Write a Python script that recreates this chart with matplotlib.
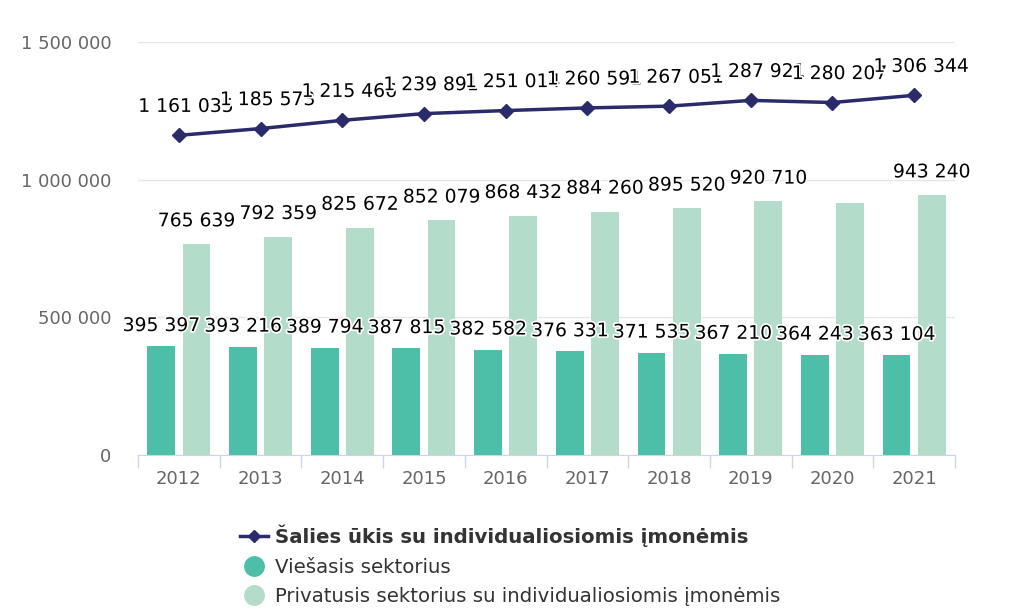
import numpy as np
import matplotlib
matplotlib.use('Agg')
import matplotlib.pyplot as plt
import matplotlib.patheffects as pe
from matplotlib.lines import Line2D

years = ['2012', '2013', '2014', '2015', '2016', '2017', '2018', '2019', '2020', '2021']
total = [1161035, 1185573, 1215466, 1239891, 1251014, 1260591, 1267051, 1287921, 1280207, 1306344]
public = [395397, 393216, 389794, 387815, 382582, 376331, 371535, 367210, 364243, 363104]
private = [765639, 792359, 825672, 852079, 868432, 884260, 895520, 920710, 915964, 943240]
# the 2020 private label is hidden in the original (overlap)
private_show = [True]*8 + [False, True]

names = ['Šalies ūkis su individualiosiomis įmonėmis',
         'Viešasis sektorius',
         'Privatusis sektorius su individualiosiomis įmonėmis']

c_line = '#2b2a6b'
c_pub = '#4dbfa8'
c_priv = '#b3dccb'

def fmt(v):
    return '{:,}'.format(v).replace(',', ' ')

fig = plt.figure(figsize=(10.24, 6.14), dpi=100)
ax = fig.add_axes([138/1024, 1-455/614, (955-138)/1024, (455-42)/614])

x = np.arange(len(years))
off = 0.215
w = 0.34

ax.bar(x-off, public, width=w, color=c_pub, zorder=2)
ax.bar(x+off, private, width=w, color=c_priv, zorder=2)
ax.plot(x, total, color=c_line, lw=2.5, marker='D', ms=7, zorder=3)

outline = [pe.withStroke(linewidth=2.5, foreground='white')]
lab_fs = 13.5
for i in range(len(years)):
    ax.annotate(fmt(public[i]), (x[i]-off, public[i]), xytext=(0, 8), textcoords='offset points',
                ha='center', va='bottom', fontsize=lab_fs, path_effects=outline, zorder=5)
    if private_show[i]:
        ax.annotate(fmt(private[i]), (x[i]+off, private[i]), xytext=(0, 10), textcoords='offset points',
                    ha='center', va='bottom', fontsize=lab_fs, path_effects=outline, zorder=5)
    ax.annotate(fmt(total[i]), (x[i], total[i]), xytext=(5, 14), textcoords='offset points',
                ha='center', va='bottom', fontsize=lab_fs, path_effects=outline, zorder=5)

ax.set_xlim(-0.5, len(years)-0.5)
ax.set_ylim(0, 1500000)
ax.set_yticks([0, 500000, 1000000, 1500000])
ax.set_yticklabels([fmt(v) for v in [0, 500000, 1000000, 1500000]])
ax.yaxis.grid(True, color='#e6e6e6', lw=1)
ax.set_axisbelow(True)
for s in ['top', 'right', 'left']:
    ax.spines[s].set_visible(False)
ax.spines['bottom'].set_color('#ccd6eb')
ax.tick_params(axis='y', length=0, pad=19, labelsize=13, labelcolor='#666666')
ax.set_xticks(x)
ax.set_xticklabels(years)
ax.tick_params(axis='x', length=0, pad=11, labelsize=13, labelcolor='#666666')
ax.set_xticks(np.arange(-0.5, len(years)), minor=True)
ax.tick_params(axis='x', which='minor', length=9, color='#ccd6eb', width=1)

handles = [Line2D([0], [0], color=c_line, lw=2.5, marker='D', ms=6),
           Line2D([0], [0], color='none', marker='o', ms=15, markerfacecolor=c_pub, markeredgecolor='none'),
           Line2D([0], [0], color='none', marker='o', ms=15, markerfacecolor=c_priv, markeredgecolor='none')]
leg = fig.legend(handles, names, loc='upper left', bbox_to_anchor=(232/1024, 1-517/614),
                 frameon=False, fontsize=14.2, handlelength=1.4, handletextpad=0.4,
                 labelspacing=0.52, borderaxespad=0)
for t in leg.get_texts():
    t.set_color('#333333')
leg.get_texts()[0].set_fontweight('bold')

fig.savefig('out.png', dpi=100)
